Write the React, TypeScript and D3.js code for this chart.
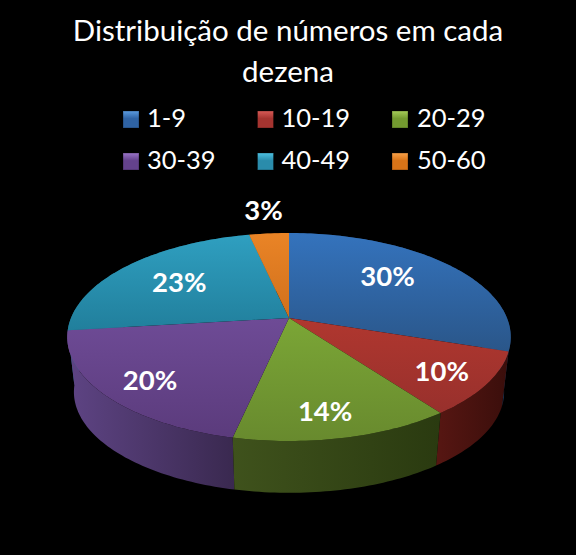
import * as d3 from 'd3';

const categories = ['1-9', '10-19', '20-29', '30-39', '40-49', '50-60'];
const shares = [30.1, 9.8, 13.5, 19.7, 23.45, 3.45];
const titleLines = ['Distribuição de números em cada', 'dezena'];

const topColors = ['#3473bd', '#b0372f', '#7ba636', '#6e4b96', '#2f9fc0', '#ea8426'];
const bottomColors = ['#2a5689', '#98302c', '#688a2e', '#5b3b7c', '#217f9c', '#d0701c'];
const wallLight = ['#264d7c', '#551612', '#3f521c', '#5e4484', '#1c6c84', '#a85a14'];
const wallDark = ['#1d3a5e', '#3a0e0b', '#2a3a10', '#3a2950', '#14505f', '#7c4210'];
const swatchLight = ['#5b9be0', '#d85a56', '#a5cc58', '#9a74c8', '#4cc0e0', '#f8a048'];
const swatchDark = ['#2f63a4', '#a53430', '#739a30', '#64428c', '#2a8cab', '#d87418'];
const labelRadius = [0.667, 0.8, 0.81, 0.8, 0.66, 1.34];
const labelTurn = [-7, 1, 2, -2, 0, 0];

const width = 576;
const height = 555;
const cx = 289;
const cy = 318;
const radiusX = 218;
const radiusY = 100.5;
const perspective = 0.183;
const wallDrop = 55.5;
const wallScale = 0.97;

// tilted disc: angle 0 at the top, clockwise, near side drawn bigger
function project(angle: number, r = 1, drop = 0, scale = 1): [number, number] {
  const u = r * Math.sin(angle);
  const v = -r * Math.cos(angle);
  const d = 1 - perspective * v;
  return [cx + (scale * radiusX * u) / d, cy + drop + (scale * radiusY * v) / d];
}

function sampleAngles(a0: number, a1: number) {
  const steps = Math.max(2, Math.ceil((a1 - a0) / 0.02));
  return d3.range(steps + 1).map((i) => a0 + ((a1 - a0) * i) / steps);
}

const slices = d3
  .pie<number>()
  .sort(null)
  .value((d) => d)(shares);

const outline = d3.line();
const legendX = d3.scalePoint<number>().domain([0, 1, 2]).range([123, 392]);
const legendY = d3.scalePoint<number>().domain([0, 1]).range([111, 153]);

export default function App() {
  const faces = slices.map((s) => {
    const rim = sampleAngles(s.startAngle, s.endAngle).map((a) => project(a));
    return outline([[cx, cy], ...rim]) + 'Z';
  });

  const walls = slices.map((s, i) => {
    const angles = sampleAngles(s.startAngle, s.endAngle);
    const upper = angles.map((a) => project(a));
    const lower = angles
      .slice()
      .reverse()
      .map((a) => project(a, 1, wallDrop, wallScale));
    return {
      i,
      depth: -Math.cos((s.startAngle + s.endAngle) / 2),
      d: outline([...upper, ...lower]) + 'Z',
      xs: d3.extent(upper, (p) => p[0]) as [number, number],
    };
  });

  // far walls first so the near ones cover them at the sides
  const wallOrder = walls.slice().sort((a, b) => d3.ascending(a.depth, b.depth));

  return (
    <svg
      width={width}
      height={height}
      viewBox={`0 0 ${width} ${height}`}
      style={{ position: 'absolute', left: 0, top: 0, background: '#000', fontFamily: 'Lato, sans-serif' }}
    >
      <defs>
        {slices.map((s, i) => (
          <linearGradient key={i} id={`face-${i}`} x1="0" x2="0" y1="0" y2="1">
            <stop offset="0%" stopColor={topColors[i]} />
            <stop offset="100%" stopColor={bottomColors[i]} />
          </linearGradient>
        ))}
        {walls.map((w) => (
          <linearGradient
            key={w.i}
            id={`wall-${w.i}`}
            gradientUnits="userSpaceOnUse"
            x1={w.xs[0]}
            x2={w.xs[1]}
            y1="0"
            y2="0"
          >
            <stop offset="0%" stopColor={wallLight[w.i]} />
            <stop offset="100%" stopColor={wallDark[w.i]} />
          </linearGradient>
        ))}
        {categories.map((c, i) => (
          <linearGradient key={c} id={`swatch-${i}`} x1="0" x2="0" y1="0" y2="1">
            <stop offset="0%" stopColor={swatchLight[i]} />
            <stop offset="45%" stopColor={swatchDark[i]} />
            <stop offset="100%" stopColor={swatchDark[i]} />
          </linearGradient>
        ))}
      </defs>

      <rect width={width} height={height} fill="#000" />

      {titleLines.map((line, i) => (
        <text key={line} x={288} y={41 + i * 41} textAnchor="middle" fill="#fff" fontSize={29.5}>
          {line}
        </text>
      ))}

      {categories.map((c, i) => {
        const x = legendX(i % 3) ?? 0;
        const y = legendY(Math.floor(i / 3)) ?? 0;
        return (
          <g key={c}>
            <rect x={x} y={y} width={16} height={17} fill={`url(#swatch-${i})`} stroke="#000" strokeOpacity={0.3} />
            <text x={x + (i % 3 === 2 ? 25 : 24)} y={y + 16} fill="#fff" fontSize={25.5}>
              {c}
            </text>
          </g>
        );
      })}

      {wallOrder.map((w) => (
        <path key={w.i} d={w.d} fill={`url(#wall-${w.i})`} />
      ))}
      {faces.map((d, i) => (
        <path key={i} d={d} fill={`url(#face-${i})`} />
      ))}

      {slices.map((s, i) => {
        const mid = (s.startAngle + s.endAngle) / 2 + (labelTurn[i] * Math.PI) / 180;
        const [x, y] = project(mid, labelRadius[i]);
        return (
          <text
            key={i}
            x={x}
            y={y}
            dy="0.35em"
            textAnchor="middle"
            fill="#fff"
            fontSize={27.5}
            fontWeight={700}
          >
            {d3.format('.0f')(s.value)}%
          </text>
        );
      })}
    </svg>
  );
}
